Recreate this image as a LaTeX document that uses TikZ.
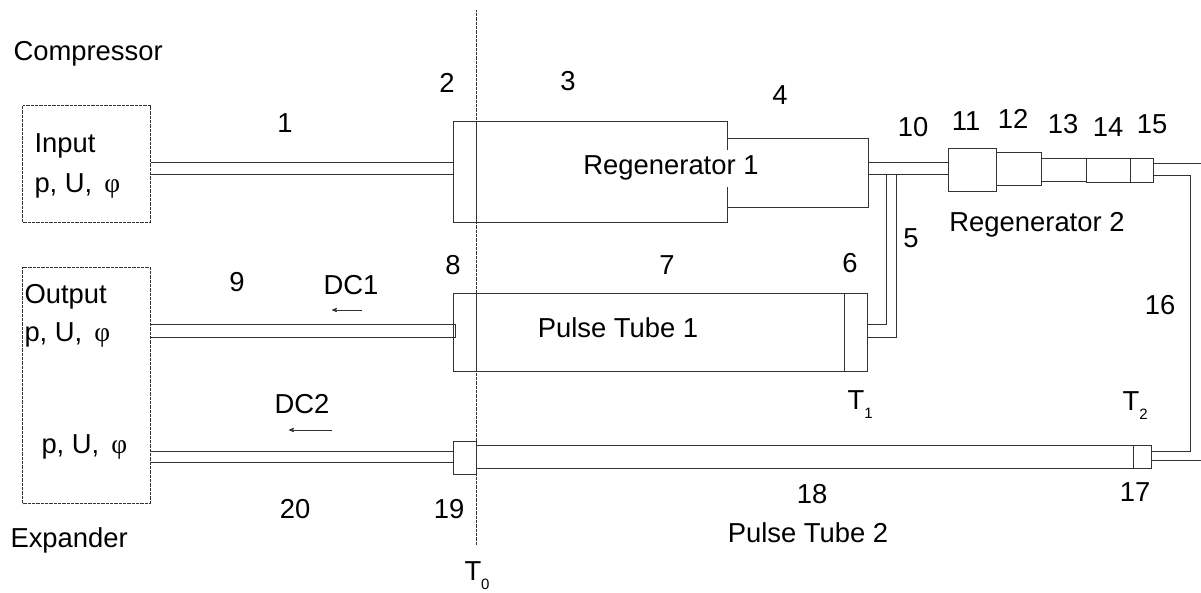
\documentclass[tikz,border=0pt]{standalone}
\usepackage{fontspec}
\setmainfont{Liberation Sans}
\newfontfamily\phifont{Liberation Serif}
\usetikzlibrary{arrows}
\newcommand{\puphi}{p, U,\ \kern4.5pt{\phifont φ}}
\newcommand{\lowsub}[1]{\raisebox{-9pt}{\fontsize{15}{15}\selectfont #1}}

\begin{document}
\begin{tikzpicture}[x=1pt,y=-1pt,every path/.style={line width=1pt,black!80},
                    box/.style={draw,inner sep=0pt,anchor=north west},
                    fine/.style={dash pattern=on 0.8pt off 0.5pt},
                    lbl/.style={inner sep=0pt,font=\fontsize{27.4}{30}\selectfont,text=black}]
  \useasboundingbox (0,0) rectangle (1201,592);
  % end boxes
  \node[box,fine,minimum width=128pt,minimum height=117pt] (input)  at (22,105)  {};
  \node[box,fine,minimum width=128pt,minimum height=236pt] (output) at (22,267)  {};
  % first stage
  \node[box,minimum width=23pt,minimum height=101pt]  (regA)  at (453,121) {};
  \node[box,minimum width=251pt,minimum height=101pt] (regB)  at (476,121) {};
  \node[box,minimum width=141pt,minimum height=69pt]  (regC)  at (727,138) {};
  \node[box,minimum width=23pt,minimum height=78pt]   (ptA)   at (453,293) {};
  \node[box,minimum width=368pt,minimum height=78pt]  (ptB)   at (476,293) {};
  \node[box,minimum width=23pt,minimum height=78pt]   (ptC)   at (844,293) {};
  % second stage
  \node[box,minimum width=48pt,minimum height=43pt]   (sec11) at (948,148)  {};
  \node[box,minimum width=45pt,minimum height=33pt]   (sec12) at (996,152)  {};
  \node[box,minimum width=45pt,minimum height=23pt]   (sec13) at (1041,158) {};
  \node[box,minimum width=44pt,minimum height=24pt]   (sec14) at (1086,158) {};
  \node[box,minimum width=23pt,minimum height=24pt]   (sec15) at (1130,158) {};
  \node[box,minimum width=18pt,minimum height=23pt]   (sec17) at (1133,445) {};
  \node[box,minimum width=657pt,minimum height=23pt]  (sec18) at (476,445)  {};
  \node[box,minimum width=23pt,minimum height=33pt]   (sec19) at (453,441)  {};
  % free ends
  \coordinate (t0top) at (476,10);
  \coordinate (t0bot) at (476,545);
  \coordinate (endA)  at (1201,163);
  \coordinate (endB)  at (1201,460);
  \coordinate (dc1a)  at (362,310);
  \coordinate (dc1b)  at (332,310);
  \coordinate (dc2a)  at (332,430);
  \coordinate (dc2b)  at (289,430);
  % pipes
  \draw (input.east |- 0,162) -- (regA.west |- 0,162);
  \draw (input.east |- 0,174) -- (regA.west |- 0,174);
  \draw (regC.east |- 0,162) -- (sec11.west |- 0,162);
  \draw (regC.east |- 0,174) -- (sec11.west |- 0,174);
  \draw (output.east |- 0,324) -- (455,324) -- (455,337) -- (output.east |- 0,337);
  \draw (output.east |- 0,451) -- (sec19.west |- 0,451);
  \draw (output.east |- 0,462) -- (sec19.west |- 0,462);
  \draw (ptC.east |- 0,324) -| (886,174);
  \draw (ptC.east |- 0,337) -| (896,174);
  \draw (sec15.east |- endA) -- (endA);
  \draw (sec15.east |- 0,175) -| (1190,451) -- (sec17.east |- 0,451);
  \draw (sec17.east |- endB) -- (endB);
  \draw[fine] (t0top) -- (t0bot);
  \draw[->,>=stealth',line width=0.8pt] (dc1a) -- (dc1b);
  \draw[->,>=stealth',line width=0.8pt] (dc2a) -- (dc2b);
  % labels
  \node[lbl,anchor=west] (compressor) at (13,54)  {Compressor};
  \node[lbl,anchor=west] (expander)   at (10,540) {Expander};
  \node[lbl,anchor=west] (inputtxt)  at (34,146)  {Input};
  \node[lbl,anchor=west] (inputpu)   at (34,186)  {\puphi};
  \node[lbl,anchor=west] (outputtxt) at (24,297)  {Output};
  \node[lbl,anchor=west] (outputpu)  at (24,335)  {\puphi};
  \node[lbl,anchor=west] (lowerpu)   at (41,447)  {\puphi};
  \node[lbl] (n1)  at (285,123)  {1};
  \node[lbl] (n2)  at (447,83)   {2};
  \node[lbl] (n3)  at (568,81)   {3};
  \node[lbl] (n4)  at (780,95)   {4};
  \node[lbl] (n5)  at (911,238)  {5};
  \node[lbl] (n6)  at (850,263)  {6};
  \node[lbl] (n7)  at (667,265)  {7};
  \node[lbl] (n8)  at (453,265)  {8};
  \node[lbl] (n9)  at (237,282)  {9};
  \node[lbl] (n10) at (913,127)  {10};
  \node[lbl] (n11) at (966,121)  {11};
  \node[lbl] (n12) at (1013,119) {12};
  \node[lbl] (n13) at (1063,124) {13};
  \node[lbl] (n14) at (1108,127) {14};
  \node[lbl] (n15) at (1152,124) {15};
  \node[lbl] (n16) at (1160,305) {16};
  \node[lbl] (n17) at (1135,492) {17};
  \node[lbl] (n18) at (812,494)  {18};
  \node[lbl] (n19) at (449,509)  {19};
  \node[lbl] (n20) at (295,509)  {20};
  \node[lbl,fill=white,minimum height=37pt] (reg1) at (671,168) {Regenerator 1};
  \node[lbl] (reg2) at (1037,225) {Regenerator 2};
  \node[lbl] (pt1)  at (618,328)  {Pulse Tube 1};
  \node[lbl] (pt2)  at (808,533)  {Pulse Tube 2};
  \node[lbl] (dc1)  at (351,285)  {DC1};
  \node[lbl] (dc2)  at (302,404)  {DC2};
  \node[lbl,anchor=base west] (t1) at (847,409)  {T\lowsub{1}};
  \node[lbl,anchor=base west] (t2) at (1122,410) {T\lowsub{2}};
  \node[lbl,anchor=base west] (t0) at (464,580)  {T\lowsub{0}};
\end{tikzpicture}
\end{document}
